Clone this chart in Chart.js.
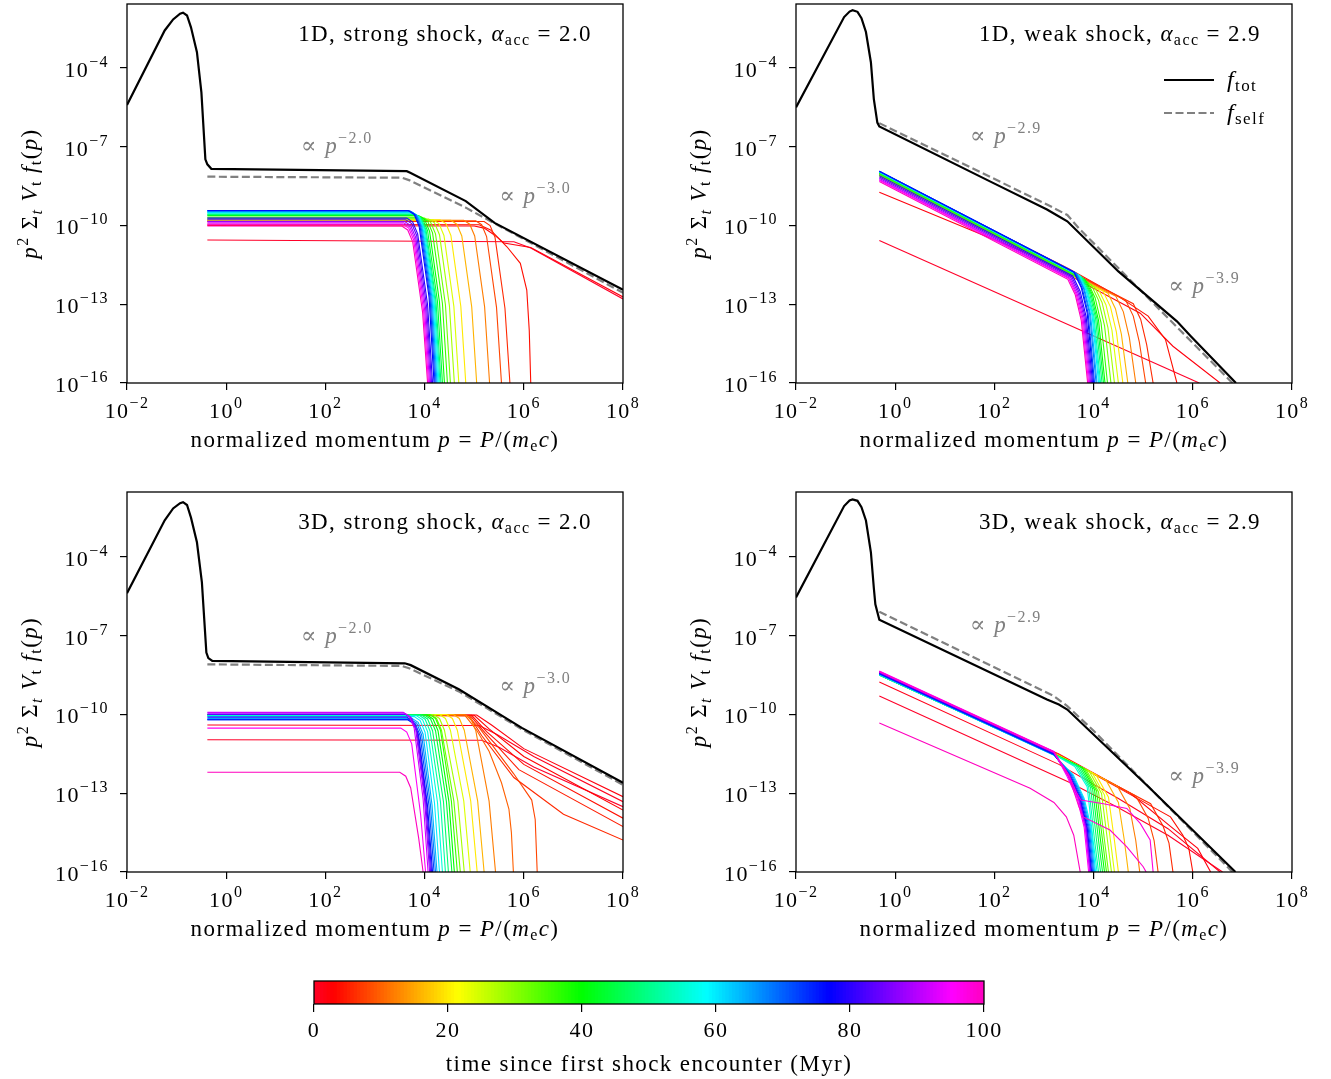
<!DOCTYPE html>
<html>
<head>
<meta charset="utf-8">
<script src="https://cdn.jsdelivr.net/npm/chart.js@4.4.0/dist/chart.umd.min.js"></script>
<style>
body { margin: 0; background: #fff; width: 1331px; height: 1079px; position: relative; overflow: hidden; }
canvas { position: absolute; }
</style>
</head>
<body>
<canvas id="p1" width="660" height="460" style="left:0;top:0"></canvas>
<canvas id="p2" width="666" height="460" style="left:665px;top:0"></canvas>
<canvas id="p3" width="660" height="490" style="left:0;top:470px"></canvas>
<canvas id="p4" width="666" height="490" style="left:665px;top:470px"></canvas>
<canvas id="cbar" width="1331" height="119" style="left:0;top:960px"></canvas>
<script>
// axis ticks
const xTicks = [1e-2, 1, 1e2, 1e4, 1e6, 1e8];
const yTicks = [1e-16, 1e-13, 1e-10, 1e-7, 1e-4];
const cbarTicks = [0, 20, 40, 60, 80, 100];

// all curves as flat lists of (log10 p, log10 value) pairs
// ---- 1D, strong shock ----
const tot1DStrong = [-2,-5.41, -1.24,-2.57, -1.07,-2.15, -0.93,-1.93, -0.87,-1.89, -0.79,-2.0, -0.71,-2.45, -0.59,-3.4, -0.5,-4.93, -0.42,-7.48, -0.38,-7.67, -0.3,-7.84, 3.64,-7.93, 3.71,-7.99, 4.83,-9.07, 5.41,-9.9, 8,-12.45];
const self1DStrong = [-0.38,-8.14, 3.55,-8.18, 3.7,-8.28, 4.83,-9.32, 5.41,-9.92, 8,-12.56];
const snaps1DStrong = [
  [0, [-0.38,-10.55, 5.8,-10.62, 6.14,-10.86, 8,-12.8]],
  [2, [-0.38,-10.0, 5.0,-10.02, 5.2,-10.1, 5.4,-10.35, 5.6,-10.67, 6.14,-10.84, 8,-12.72]],
  [4, [-0.38,-9.95, 5.1,-9.97, 5.33,-10.17, 5.66,-10.81, 5.93,-11.44, 6.06,-12.46, 6.11,-14.0, 6.14,-16]],
  [6, [-0.38,-9.85, 5.2,-9.85, 5.32,-10.0, 5.42,-10.45, 5.62,-13.15, 5.72,-16]],
  [8, [-0.38,-9.82, 5.03,-9.82, 5.15,-9.97, 5.25,-10.42, 5.45,-13.12, 5.55,-16]],
  [12, [-0.38,-9.8, 4.79,-9.8, 4.91,-9.95, 5.01,-10.4, 5.21,-13.1, 5.31,-16]],
  [16, [-0.38,-9.8, 4.53,-9.8, 4.65,-9.95, 4.75,-10.4, 4.95,-13.1, 5.05,-16]],
  [20, [-0.38,-9.78, 4.31,-9.78, 4.43,-9.93, 4.53,-10.38, 4.73,-13.08, 4.83,-16]],
  [24, [-0.38,-9.78, 4.17,-9.78, 4.29,-9.93, 4.39,-10.38, 4.59,-13.08, 4.69,-16]],
  [28, [-0.38,-9.75, 4.08,-9.75, 4.2,-9.9, 4.3,-10.35, 4.5,-13.05, 4.6,-16]],
  [32, [-0.38,-9.72, 4.0,-9.72, 4.12,-9.87, 4.22,-10.32, 4.42,-13.02, 4.52,-16]],
  [36, [-0.38,-9.68, 3.94,-9.68, 4.06,-9.83, 4.16,-10.28, 4.36,-12.98, 4.46,-16]],
  [40, [-0.38,-9.62, 3.88,-9.62, 4.0,-9.77, 4.1,-10.22, 4.3,-12.92, 4.4,-16]],
  [44, [-0.38,-9.6, 3.84,-9.6, 3.96,-9.75, 4.06,-10.2, 4.26,-12.9, 4.36,-16]],
  [48, [-0.38,-9.58, 3.81,-9.58, 3.93,-9.73, 4.03,-10.18, 4.23,-12.88, 4.33,-16]],
  [52, [-0.38,-9.55, 3.79,-9.55, 3.91,-9.7, 4.01,-10.15, 4.21,-12.85, 4.31,-16]],
  [56, [-0.38,-9.52, 3.77,-9.52, 3.89,-9.67, 3.99,-10.12, 4.19,-12.82, 4.29,-16]],
  [60, [-0.38,-9.5, 3.75,-9.5, 3.87,-9.65, 3.97,-10.1, 4.17,-12.8, 4.27,-16]],
  [64, [-0.38,-9.47, 3.73,-9.47, 3.85,-9.62, 3.95,-10.07, 4.15,-12.77, 4.25,-16]],
  [68, [-0.38,-9.45, 3.71,-9.45, 3.83,-9.6, 3.93,-10.05, 4.13,-12.75, 4.23,-16]],
  [72, [-0.38,-9.44, 3.69,-9.44, 3.81,-9.59, 3.91,-10.04, 4.11,-12.74, 4.21,-16]],
  [76, [-0.38,-9.43, 3.67,-9.43, 3.79,-9.58, 3.89,-10.03, 4.09,-12.73, 4.19,-16]],
  [80, [-0.38,-9.72, 3.64,-9.72, 3.76,-9.87, 3.86,-10.32, 4.06,-13.02, 4.16,-16]],
  [84, [-0.38,-9.78, 3.62,-9.78, 3.74,-9.93, 3.84,-10.38, 4.04,-13.08, 4.14,-16]],
  [88, [-0.38,-9.85, 3.6,-9.85, 3.72,-10.0, 3.82,-10.45, 4.02,-13.15, 4.12,-16]],
  [92, [-0.38,-9.9, 3.58,-9.9, 3.7,-10.05, 3.8,-10.5, 4.0,-13.2, 4.1,-16]],
  [96, [-0.38,-9.95, 3.56,-9.95, 3.68,-10.1, 3.78,-10.55, 3.98,-13.25, 4.08,-16]],
  [100, [-0.38,-10.02, 3.54,-10.02, 3.66,-10.17, 3.76,-10.62, 3.96,-13.32, 4.06,-16]]
];

// ---- 1D, weak shock ----
const tot1DWeak = [-2,-5.5, -1.03,-2.06, -0.92,-1.85, -0.86,-1.8, -0.76,-1.86, -0.68,-2.1, -0.59,-2.63, -0.49,-3.78, -0.43,-5.2, -0.36,-6.08, -0.32,-6.23, 1.9,-8.31, 3.06,-9.39, 3.25,-9.6, 3.47,-9.84, 4.5,-11.75, 5.68,-13.65, 5.95,-14.2, 6.87,-16];
const self1DWeak = [-0.32,-6.1, 3.06,-9.2, 3.47,-9.6, 3.7,-10.1, 6.8,-16];
const snaps1DWeak = [
  [0, [-0.32,-10.57, 6.13,-16]],
  [2, [-0.32,-8.73, 2.72,-11.1, 4.94,-13.34, 5.6,-14.6, 6.55,-16]],
  [4, [-0.32,-7.98, 2.72,-10.9, 3.5,-11.65, 4.5,-12.7, 5.1,-13.45, 5.45,-14.35, 5.68,-16]],
  [6, [-0.32,-8.0, 4.8,-12.98, 4.95,-13.58, 5.07,-14.54, 5.2,-16]],
  [8, [-0.32,-8.02, 4.65,-12.86, 4.8,-13.45, 4.92,-14.42, 5.05,-16]],
  [12, [-0.32,-8.05, 4.45,-12.7, 4.6,-13.29, 4.72,-14.26, 4.85,-16]],
  [16, [-0.32,-8.08, 4.29,-12.58, 4.44,-13.17, 4.56,-14.14, 4.69,-16]],
  [20, [-0.32,-8.1, 4.19,-12.5, 4.34,-13.1, 4.46,-14.06, 4.59,-16]],
  [24, [-0.32,-8.12, 4.1,-12.44, 4.25,-13.03, 4.37,-13.99, 4.5,-16]],
  [28, [-0.32,-8.1, 4.02,-12.34, 4.17,-12.93, 4.29,-13.9, 4.42,-16]],
  [32, [-0.32,-8.08, 3.95,-12.25, 4.1,-12.85, 4.22,-13.81, 4.35,-16]],
  [36, [-0.32,-8.05, 3.88,-12.16, 4.03,-12.75, 4.15,-13.71, 4.28,-16]],
  [40, [-0.32,-8.0, 3.83,-12.06, 3.98,-12.65, 4.1,-13.62, 4.23,-16]],
  [44, [-0.32,-8.0, 3.8,-12.03, 3.95,-12.62, 4.07,-13.59, 4.2,-16]],
  [48, [-0.32,-7.98, 3.77,-11.98, 3.92,-12.58, 4.04,-13.54, 4.17,-16]],
  [52, [-0.32,-7.97, 3.74,-11.94, 3.89,-12.54, 4.01,-13.5, 4.14,-16]],
  [56, [-0.32,-7.96, 3.72,-11.91, 3.87,-12.51, 3.99,-13.47, 4.12,-16]],
  [60, [-0.32,-7.95, 3.7,-11.89, 3.85,-12.48, 3.97,-13.44, 4.1,-16]],
  [64, [-0.32,-7.94, 3.67,-11.85, 3.82,-12.44, 3.94,-13.4, 4.07,-16]],
  [68, [-0.32,-7.93, 3.65,-11.82, 3.8,-12.41, 3.92,-13.38, 4.05,-16]],
  [72, [-0.32,-7.93, 3.62,-11.79, 3.77,-12.38, 3.89,-13.35, 4.02,-16]],
  [76, [-0.32,-7.93, 3.6,-11.77, 3.75,-12.36, 3.87,-13.33, 4.0,-16]],
  [80, [-0.32,-8.1, 3.58,-11.92, 3.73,-12.51, 3.85,-13.48, 3.98,-16]],
  [84, [-0.32,-8.15, 3.56,-11.95, 3.71,-12.55, 3.83,-13.51, 3.96,-16]],
  [88, [-0.32,-8.2, 3.54,-11.98, 3.69,-12.58, 3.81,-13.54, 3.94,-16]],
  [92, [-0.32,-8.25, 3.52,-12.01, 3.67,-12.61, 3.79,-13.57, 3.92,-16]],
  [96, [-0.32,-8.28, 3.5,-12.02, 3.65,-12.62, 3.77,-13.58, 3.9,-16]],
  [100, [-0.32,-8.32, 3.48,-12.05, 3.63,-12.64, 3.75,-13.6, 3.88,-16]]
];

// ---- 3D, strong shock ----
const tot3DStrong = [-2,-5.38, -1.24,-2.6, -1.07,-2.15, -0.93,-1.95, -0.87,-1.91, -0.79,-2.02, -0.71,-2.5, -0.59,-3.44, -0.49,-4.97, -0.4,-7.64, -0.36,-7.85, -0.28,-7.96, 3.6,-8.05, 3.72,-8.12, 4.69,-9.04, 5.96,-10.51, 8,-12.6];
const self3DStrong = [-0.38,-8.09, 3.54,-8.15, 3.7,-8.25, 4.69,-9.12, 5.96,-10.56, 8,-12.68];
const snaps3DStrong = [
  [0, [-0.38,-10.96, 5.15,-10.98, 5.5,-11.25, 6.2,-12.0, 8,-13.51]],
  [1, [-0.38,-10.4, 5.1,-10.42, 5.45,-10.75, 6.2,-11.6, 8,-13.32]],
  [2, [-0.38,-10.0, 5.05,-10.02, 5.35,-10.4, 6.0,-11.3, 8,-13.13]],
  [3, [-0.38,-10.0, 5.0,-10.03, 5.3,-10.55, 6.0,-11.6, 8,-13.64]],
  [4, [-0.38,-10.0, 4.95,-10.03, 5.25,-10.65, 6.0,-11.9, 8,-13.95]],
  [5, [-0.38,-10.0, 4.92,-10.04, 5.22,-10.7, 5.9,-12.1, 8,-14.27]],
  [6, [-0.38,-10.0, 4.9,-10.05, 5.15,-10.8, 5.8,-12.4, 6.8,-13.8, 8,-14.78]],
  [8, [-0.38,-10.0, 4.85,-10.05, 5.1,-10.5, 5.33,-11.08, 5.79,-12.24, 6.16,-13.26, 6.23,-14.0, 6.27,-16]],
  [10, [-0.38,-10.0, 4.82,-10.05, 5.05,-10.6, 5.3,-11.4, 5.55,-12.6, 5.7,-13.6, 5.75,-14.5, 5.79,-16]],
  [12, [-0.38,-10.0, 4.81,-10.0, 4.93,-10.15, 5.03,-10.6, 5.3,-13.3, 5.43,-16]],
  [16, [-0.38,-10.0, 4.58,-10.0, 4.7,-10.15, 4.8,-10.6, 5.07,-13.3, 5.2,-16]],
  [20, [-0.38,-10.0, 4.44,-10.0, 4.56,-10.15, 4.66,-10.6, 4.93,-13.3, 5.06,-16]],
  [24, [-0.38,-10.0, 4.3,-10.0, 4.42,-10.15, 4.52,-10.6, 4.79,-13.3, 4.92,-16]],
  [28, [-0.38,-10.0, 4.18,-10.0, 4.3,-10.15, 4.4,-10.6, 4.67,-13.3, 4.8,-16]],
  [32, [-0.38,-10.0, 4.12,-10.0, 4.24,-10.15, 4.34,-10.6, 4.59,-13.3, 4.72,-16]],
  [36, [-0.38,-10.0, 4.1,-10.0, 4.22,-10.15, 4.32,-10.6, 4.54,-13.3, 4.66,-16]],
  [40, [-0.38,-10.02, 4.05,-10.02, 4.17,-10.17, 4.27,-10.62, 4.49,-13.32, 4.6,-16]],
  [44, [-0.38,-10.02, 4.0,-10.02, 4.12,-10.17, 4.22,-10.62, 4.44,-13.32, 4.55,-16]],
  [48, [-0.38,-10.02, 3.94,-10.02, 4.06,-10.17, 4.16,-10.62, 4.38,-13.32, 4.48,-16]],
  [52, [-0.38,-10.03, 3.89,-10.03, 4.01,-10.18, 4.11,-10.63, 4.32,-13.33, 4.42,-16]],
  [56, [-0.38,-10.05, 3.84,-10.05, 3.96,-10.2, 4.06,-10.65, 4.26,-13.35, 4.36,-16]],
  [60, [-0.38,-10.08, 3.79,-10.08, 3.91,-10.23, 4.01,-10.68, 4.2,-13.38, 4.3,-16]],
  [64, [-0.38,-10.15, 3.75,-10.15, 3.87,-10.3, 3.97,-10.75, 4.15,-13.45, 4.25,-16]],
  [68, [-0.38,-10.18, 3.72,-10.18, 3.84,-10.33, 3.94,-10.78, 4.12,-13.48, 4.22,-16]],
  [72, [-0.38,-10.2, 3.69,-10.2, 3.81,-10.35, 3.91,-10.8, 4.09,-13.5, 4.19,-16]],
  [76, [-0.38,-10.2, 3.66,-10.2, 3.78,-10.35, 3.88,-10.8, 4.06,-13.5, 4.16,-16]],
  [80, [-0.38,-10.1, 3.64,-10.1, 3.76,-10.25, 3.86,-10.7, 4.04,-13.4, 4.14,-16]],
  [84, [-0.38,-10.0, 3.62,-10.0, 3.74,-10.15, 3.84,-10.6, 4.02,-13.3, 4.12,-16]],
  [88, [-0.38,-9.95, 3.6,-9.95, 3.72,-10.1, 3.82,-10.55, 4.0,-13.25, 4.1,-16]],
  [92, [-0.38,-9.92, 3.57,-9.92, 3.69,-10.07, 3.79,-10.52, 3.97,-13.22, 4.07,-16]],
  [96, [-0.38,-10.52, 3.52,-10.52, 3.64,-10.67, 3.74,-11.12, 3.92,-13.82, 4.02,-16]],
  [100, [-0.38,-12.2, 3.5,-12.2, 3.62,-12.35, 3.72,-12.8, 3.88,-14.7, 3.97,-16]]
];

// ---- 3D, weak shock ----
const tot3DWeak = [-2,-5.54, -1.03,-2.06, -0.92,-1.85, -0.86,-1.81, -0.76,-1.86, -0.68,-2.1, -0.59,-2.61, -0.49,-3.82, -0.43,-5.2, -0.4,-5.8, -0.32,-6.39, 3.06,-9.43, 3.3,-9.62, 3.47,-9.81, 5.1,-12.74, 6.86,-16];
const self3DWeak = [-0.32,-6.09, 3.2,-9.3, 3.47,-9.68, 4.0,-10.62, 6.8,-16];
const snaps3DWeak = [
  [0, [-0.32,-9.3, 3.54,-12.61, 4.5,-13.55, 5.5,-14.6, 6.6,-16]],
  [1, [-0.32,-8.76, 3.3,-11.9, 4.5,-13.2, 5.5,-14.35, 6.55,-16]],
  [2, [-0.32,-8.4, 3.3,-11.5, 4.74,-13.0, 5.55,-14.26, 6.1,-15.1, 6.36,-16]],
  [4, [-0.32,-8.42, 3.3,-11.53, 4.6,-12.9, 5.55,-13.9, 5.8,-14.6, 5.92,-15.1, 6.0,-16]],
  [6, [-0.32,-8.43, 3.3,-11.55, 5.15,-13.4, 5.4,-14.25, 5.52,-14.9, 5.6,-16]],
  [8, [-0.32,-8.44, 3.3,-11.55, 4.85,-13.1, 5.1,-13.95, 5.22,-14.8, 5.3,-16]],
  [12, [-0.32,-8.45, 3.3,-11.55, 4.48,-12.73, 4.73,-13.58, 4.85,-14.8, 4.93,-16]],
  [16, [-0.32,-8.46, 3.3,-11.56, 4.25,-12.5, 4.5,-13.35, 4.62,-14.8, 4.7,-16]],
  [20, [-0.32,-8.47, 3.3,-11.57, 4.05,-12.3, 4.3,-13.15, 4.42,-14.8, 4.5,-16]],
  [24, [-0.32,-8.48, 3.3,-11.58, 3.97,-12.22, 4.22,-13.07, 4.34,-14.8, 4.42,-16]],
  [28, [-0.32,-8.48, 3.3,-11.58, 3.91,-12.16, 4.16,-13.01, 4.28,-14.8, 4.36,-16]],
  [32, [-0.32,-8.49, 3.3,-11.59, 3.85,-12.1, 4.1,-12.95, 4.22,-14.8, 4.3,-16]],
  [36, [-0.32,-8.5, 3.3,-11.6, 3.81,-12.06, 4.06,-12.91, 4.18,-14.8, 4.26,-16]],
  [40, [-0.32,-8.5, 3.3,-11.6, 3.77,-12.02, 4.02,-12.87, 4.14,-14.8, 4.22,-16]],
  [44, [-0.32,-8.5, 3.28,-11.6, 3.73,-12.0, 3.98,-12.83, 4.1,-14.8, 4.18,-16]],
  [48, [-0.32,-8.5, 3.26,-11.58, 3.69,-11.98, 3.94,-12.79, 4.06,-14.8, 4.14,-16]],
  [52, [-0.32,-8.5, 3.24,-11.56, 3.65,-11.96, 3.9,-12.75, 4.02,-14.8, 4.1,-16]],
  [56, [-0.32,-8.49, 3.22,-11.54, 3.62,-11.98, 3.87,-12.75, 3.99,-14.8, 4.07,-16]],
  [60, [-0.32,-8.48, 3.2,-11.55, 3.59,-12.3, 3.81,-13.2, 3.95,-14.3, 4.04,-16]],
  [64, [-0.32,-8.47, 3.2,-11.54, 3.57,-12.3, 3.79,-13.2, 3.93,-14.3, 4.02,-16]],
  [68, [-0.32,-8.46, 3.2,-11.53, 3.55,-12.3, 3.77,-13.2, 3.91,-14.3, 4.0,-16]],
  [72, [-0.32,-8.45, 3.2,-11.52, 3.53,-12.3, 3.75,-13.2, 3.89,-14.3, 3.98,-16]],
  [76, [-0.32,-8.44, 3.2,-11.51, 3.51,-12.3, 3.73,-13.2, 3.87,-14.3, 3.96,-16]],
  [80, [-0.32,-8.42, 3.2,-11.49, 3.5,-12.3, 3.72,-13.2, 3.86,-14.3, 3.95,-16]],
  [84, [-0.32,-8.4, 3.2,-11.47, 3.49,-12.3, 3.71,-13.2, 3.85,-14.3, 3.94,-16]],
  [88, [-0.32,-8.38, 3.2,-11.45, 3.48,-12.3, 3.7,-13.2, 3.84,-14.3, 3.93,-16]],
  [92, [-0.32,-8.36, 3.2,-11.43, 3.47,-12.3, 3.69,-13.2, 3.83,-14.3, 3.92,-16]],
  [96, [-0.32,-8.34, 3.2,-11.41, 3.45,-12.3, 3.67,-13.2, 3.81,-14.3, 3.9,-16]],
  [98, [-0.32,-8.36, 3.2,-11.43, 3.5,-12.3, 3.65,-12.95, 3.74,-13.26, 4.2,-13.4, 4.67,-13.58, 4.94,-14.15, 5.14,-14.78, 5.2,-16]],
  [99, [-0.32,-8.37, 3.2,-11.44, 3.5,-12.35, 3.7,-13.5, 3.79,-13.9, 4.33,-14.4, 4.67,-15.04, 5.0,-15.8, 5.06,-16]],
  [100, [-0.32,-10.32, 2.72,-12.81, 3.2,-13.35, 3.45,-13.9, 3.6,-14.6, 3.73,-16]]
];

const SERIF = '"Liberation Serif", "DejaVu Serif", serif';
const GREY = '#808080';
const SPACING = '1.4px';

// matplotlib gist_rainbow
const rainbowStops = [[0, 1, 0, 0.16], [0.03, 1, 0, 0], [0.215, 1, 1, 0], [0.4, 0, 1, 0], [0.586, 0, 1, 1], [0.77, 0, 0, 1], [0.954, 1, 0, 1], [1, 1, 0, 0.75]];
function rainbow(v) {
    for (let i = 1; i < rainbowStops.length; i++) {
        const a = rainbowStops[i - 1], b = rainbowStops[i];
        if (v <= b[0]) {
            const f = (v - a[0]) / (b[0] - a[0]);
            const c = [1, 2, 3].map(k => Math.round(255 * (a[k] + f * (b[k] - a[k]))));
            return `rgb(${c[0]},${c[1]},${c[2]})`;
        }
    }
    return 'rgb(255,0,191)';
}

function toPoints(flat) {
    const pts = [];
    for (let i = 0; i < flat.length; i += 2) {
        pts.push({ x: Math.pow(10, flat[i]), y: Math.pow(10, flat[i + 1]) });
    }
    return pts;
}

// little rich-text helper for sub/superscripts
function fontOf(s) {
    return (s.i ? 'italic ' : '') + (s.f || 23) + 'px ' + SERIF;
}
function drawRich(ctx, x, y, segs, align, color) {
    ctx.letterSpacing = SPACING;
    let w = 0;
    segs.forEach(s => { ctx.font = fontOf(s); w += ctx.measureText(s.s).width; });
    let cx = align === 'center' ? x - w / 2 : align === 'right' ? x - w : x;
    ctx.fillStyle = color || '#000';
    ctx.textAlign = 'left';
    ctx.textBaseline = 'alphabetic';
    segs.forEach(s => {
        ctx.font = fontOf(s);
        ctx.fillText(s.s, cx, y + (s.dy || 0));
        cx += ctx.measureText(s.s).width;
    });
}
function powLabel(e) {
    return [{ s: '10', f: 22 }, { s: (e < 0 ? '\u2212' + (-e) : '' + e), f: 16, dy: -10 }];
}

const xTitle = [{ s: 'normalized momentum ' }, { s: 'p', i: 1 }, { s: ' = ' }, { s: 'P', i: 1 }, { s: '/(' }, { s: 'm', i: 1 }, { s: 'e', f: 16, dy: 4 }, { s: 'c', i: 1 }, { s: ')' }];
const yTitle = [{ s: 'p', i: 1 }, { s: '2', f: 16, dy: -9 }, { s: ' \u03A3' }, { s: 't', i: 1, f: 16, dy: 5 }, { s: ' V', i: 1 }, { s: 't', f: 16, dy: 4 }, { s: ' f', i: 1 }, { s: 't', f: 16, dy: 4 }, { s: '(' }, { s: 'p', i: 1 }, { s: ')' }];

function decor(cfg) {
    return {
        id: 'decor',
        afterDraw(chart) {
            const { ctx, chartArea: a, scales } = chart;
            const x = scales.x, y = scales.y;
            ctx.save();
            ctx.strokeStyle = '#000';
            ctx.lineWidth = 1.3;
            ctx.strokeRect(a.left, a.top, a.right - a.left, a.bottom - a.top);
            xTicks.forEach(v => drawRich(ctx, x.getPixelForValue(v), a.bottom + 35, powLabel(Math.round(Math.log10(v))), 'center'));
            yTicks.forEach(v => drawRich(ctx, a.left - 18, y.getPixelForValue(v) + 9, powLabel(Math.round(Math.log10(v))), 'right'));
            drawRich(ctx, (a.left + a.right) / 2, a.bottom + 64, xTitle, 'center');
            ctx.save();
            ctx.translate(a.left - 90, (a.top + a.bottom) / 2);
            ctx.rotate(-Math.PI / 2);
            drawRich(ctx, 0, 0, yTitle, 'center');
            ctx.restore();
            // panel title
            drawRich(ctx, a.right - 31, a.top + 36.5, [{ s: cfg.title + ', ' }, { s: '\u03B1', i: 1 }, { s: 'acc', f: 16, dy: 4 }, { s: ' = ' + cfg.alpha }], 'right');
            // slope annotations
            cfg.notes.forEach(n => {
                drawRich(ctx, x.getPixelForValue(Math.pow(10, n[0])), y.getPixelForValue(Math.pow(10, n[1])),
                    [{ s: '\u221D ' }, { s: 'p', i: 1 }, { s: n[2], f: 16, dy: -10 }], 'left', GREY);
            });
            if (cfg.legend) {
                const lx = a.right - 128, ly = a.top + 76;
                ctx.lineWidth = 2.2;
                ctx.strokeStyle = '#000';
                ctx.beginPath(); ctx.moveTo(lx, ly); ctx.lineTo(lx + 50, ly); ctx.stroke();
                ctx.strokeStyle = GREY;
                ctx.setLineDash([8, 3.5]);
                ctx.beginPath(); ctx.moveTo(lx, ly + 33); ctx.lineTo(lx + 50, ly + 33); ctx.stroke();
                ctx.setLineDash([]);
                drawRich(ctx, lx + 63, ly + 7, [{ s: 'f', i: 1, f: 24 }, { s: 'tot', f: 17, dy: 4 }], 'left');
                drawRich(ctx, lx + 63, ly + 40, [{ s: 'f', i: 1, f: 24 }, { s: 'self', f: 17, dy: 4 }], 'left');
            }
            ctx.restore();
        }
    };
}

function makePanel(id, tot, self, snaps, cfg) {
    const datasets = [
        { data: toPoints(tot), borderColor: '#000', borderWidth: 2.2 },
        { data: toPoints(self), borderColor: GREY, borderWidth: 2.2, borderDash: [8, 3.5] }
    ];
    // latest snapshot first so it lands on top of the early (red) ones
    snaps.slice().sort((a, b) => b[0] - a[0]).forEach(s => {
        datasets.push({ data: toPoints(s[1]), borderColor: rainbow(s[0] / 100), borderWidth: 1.1 });
    });
    const tickGrid = { display: true, drawOnChartArea: false, drawTicks: true, tickLength: 7, color: '#000', lineWidth: 1.2 };
    new Chart(document.getElementById(id), {
        type: 'line',
        data: { datasets },
        options: {
            responsive: false,
            animation: false,
            events: [],
            layout: { padding: { left: 0, right: cfg.padR, top: cfg.padT, bottom: 0 } },
            elements: { point: { radius: 0 }, line: { tension: 0, fill: false } },
            plugins: { legend: { display: false }, tooltip: { enabled: false } },
            scales: {
                x: {
                    type: 'logarithmic', min: 1e-2, max: 1e8,
                    afterBuildTicks: s => { s.ticks = xTicks.map(v => ({ value: v })); },
                    afterFit: s => { s.height = cfg.xH; },
                    ticks: { display: false },
                    grid: tickGrid,
                    border: { display: false }
                },
                y: {
                    type: 'logarithmic', min: 1e-16, max: Math.pow(10, cfg.yTop),
                    afterBuildTicks: s => { s.ticks = yTicks.map(v => ({ value: v })); },
                    afterFit: s => { s.width = cfg.yW; },
                    ticks: { display: false },
                    grid: tickGrid,
                    border: { display: false }
                }
            }
        },
        plugins: [decor(cfg)]
    });
}

makePanel('p1', tot1DStrong, self1DStrong, snaps1DStrong, {
    padR: 37, padT: 4, xH: 77, yW: 127, yTop: -1.562,
    title: '1D, strong shock', alpha: '2.0',
    notes: [[1.51, -7.24, '\u22122.0'], [5.51, -9.14, '\u22123.0']]
});
makePanel('p2', tot1DWeak, self1DWeak, snaps1DWeak, {
    padR: 39, padT: 4, xH: 77, yW: 131, yTop: -1.562,
    title: '1D, weak shock', alpha: '2.9', legend: true,
    notes: [[1.51, -6.86, '\u22122.9'], [5.51, -12.57, '\u22123.9']]
});
makePanel('p3', tot3DStrong, self3DStrong, snaps3DStrong, {
    padR: 37, padT: 22, xH: 88, yW: 127, yTop: -1.524,
    title: '3D, strong shock', alpha: '2.0',
    notes: [[1.51, -7.27, '\u22122.0'], [5.51, -9.17, '\u22123.0']]
});
makePanel('p4', tot3DWeak, self3DWeak, snaps3DWeak, {
    padR: 39, padT: 22, xH: 88, yW: 131, yTop: -1.524,
    title: '3D, weak shock', alpha: '2.9',
    notes: [[1.51, -6.86, '\u22122.9'], [5.51, -12.6, '\u22123.9']]
});

// colour bar: thin touching bars across 0..100 Myr
const cbarSamples = [];
for (let t = 0.25; t < 100; t += 0.5) cbarSamples.push({ x: t, y: 1 });
new Chart(document.getElementById('cbar'), {
    type: 'bar',
    data: {
        datasets: [{
            data: cbarSamples,
            backgroundColor: cbarSamples.map(d => rainbow(d.x / 100)),
            borderWidth: 0,
            barThickness: 4
        }]
    },
    options: {
        responsive: false,
        animation: false,
        events: [],
        layout: { padding: { left: 314, right: 347, top: 21, bottom: 0 } },
        plugins: { legend: { display: false }, tooltip: { enabled: false } },
        scales: {
            x: {
                type: 'linear', min: 0, max: 100, offset: false,
                afterBuildTicks: s => { s.ticks = cbarTicks.map(v => ({ value: v })); },
                afterFit: s => { s.height = 75; },
                ticks: { color: '#000', font: { family: SERIF, size: 22 }, padding: 6, maxRotation: 0 },
                grid: { drawOnChartArea: false, drawTicks: true, tickLength: 8, color: '#000', lineWidth: 1.2, offset: false },
                border: { display: false },
                title: { display: true, text: 'time since first shock encounter (Myr)', color: '#000', font: { family: SERIF, size: 23 }, padding: { top: 0, bottom: 0 } }
            },
            y: { display: false, min: 0, max: 1 }
        }
    },
    plugins: [{
        id: 'cbarFrame',
        beforeDraw(chart) {
            chart.ctx.letterSpacing = SPACING;
        },
        afterDraw(chart) {
            const { ctx, chartArea: a } = chart;
            ctx.save();
            ctx.strokeStyle = '#000';
            ctx.lineWidth = 1.3;
            ctx.strokeRect(a.left, a.top, a.right - a.left, a.bottom - a.top);
            ctx.restore();
        }
    }]
});
</script>
</body>
</html>
